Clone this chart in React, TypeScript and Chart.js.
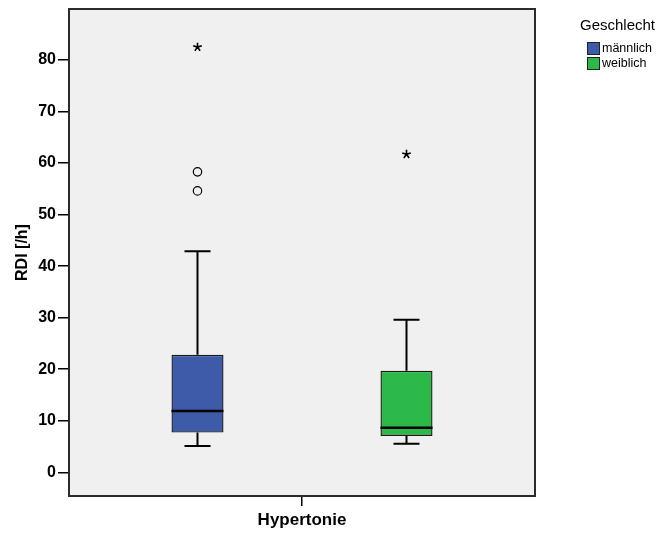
import React, { useEffect, useRef } from "react";
import { Chart, registerables } from "chart.js";

Chart.register(...registerables);

// ---- data ----
const categories = ["Hypertonie"];
const groups = ["männlich", "weiblich"];
const groupColors = ["#3E5BAA", "#2DB84A"];
const whiskerLow = [5.1, 5.55];
const q1 = [7.7, 7.05];
const median = [11.9, 8.65];
const q3 = [22.8, 19.7];
const whiskerHigh = [42.9, 29.6];
const outliersCircle = [[58.3, 54.6], []];
const outliersStar = [[82.5], [61.7]];
const yTicks = [0, 10, 20, 30, 40, 50, 60, 70, 80];
const legendTitle = "Geschlecht";
const yTitle = "RDI [/h]";

const boxPlugin = {
  id: "boxExtras",
  beforeDraw(chart: any) {
    const { ctx, chartArea: a } = chart;
    ctx.save();
    ctx.fillStyle = "#F0F0F0";
    ctx.fillRect(a.left, a.top, a.right - a.left, a.bottom - a.top);
    ctx.restore();
  },
  afterDatasetsDraw(chart: any) {
    const { ctx } = chart;
    const ys = chart.scales.y;
    ctx.save();
    groups.forEach((_, i) => {
      const meta = chart.getDatasetMeta(i);
      const bar: any = meta.data[0];
      if (!bar) return;
      const x = bar.x;
      const w = bar.width;
      const capW = w / 2;
      ctx.strokeStyle = "#000";
      ctx.lineCap = "butt";
      ctx.lineWidth = 2;
      ctx.beginPath();
      ctx.moveTo(x, ys.getPixelForValue(q3[i]));
      ctx.lineTo(x, ys.getPixelForValue(whiskerHigh[i]));
      ctx.moveTo(x, ys.getPixelForValue(q1[i]));
      ctx.lineTo(x, ys.getPixelForValue(whiskerLow[i]));
      ctx.stroke();
      ctx.beginPath();
      const yh = ys.getPixelForValue(whiskerHigh[i]);
      const yl = ys.getPixelForValue(whiskerLow[i]);
      ctx.moveTo(x - capW / 2, yh);
      ctx.lineTo(x + capW / 2, yh);
      ctx.moveTo(x - capW / 2, yl);
      ctx.lineTo(x + capW / 2, yl);
      ctx.stroke();
      ctx.lineWidth = 2.6;
      ctx.beginPath();
      const ym = ys.getPixelForValue(median[i]);
      ctx.moveTo(x - w / 2, ym);
      ctx.lineTo(x + w / 2, ym);
      ctx.stroke();
      ctx.lineWidth = 1.2;
      outliersCircle[i].forEach((v) => {
        const yy = ys.getPixelForValue(v);
        ctx.beginPath();
        ctx.arc(x, yy, 4.2, 0, Math.PI * 2);
        ctx.stroke();
      });
      ctx.lineWidth = 1.6;
      outliersStar[i].forEach((v) => {
        const yy = ys.getPixelForValue(v);
        ctx.beginPath();
        for (let k = 0; k < 5; k++) {
          const ang = -Math.PI / 2 + (k * 2 * Math.PI) / 5;
          ctx.moveTo(x, yy);
          ctx.lineTo(x + Math.cos(ang) * 4.5, yy + Math.sin(ang) * 4.5);
        }
        ctx.stroke();
      });
    });
    ctx.restore();
  },
  afterDraw(chart: any) {
    const { ctx, chartArea: a } = chart;
    ctx.save();
    ctx.strokeStyle = "#2b2b2b";
    ctx.lineWidth = 2;
    ctx.strokeRect(a.left, a.top, a.right - a.left, a.bottom - a.top);
    ctx.restore();
  },
};

export default function App() {
  const ref = useRef<HTMLCanvasElement | null>(null);
  useEffect(() => {
    if (!ref.current) return;
    const chart = new Chart(ref.current, {
      type: "bar",
      data: {
        labels: categories,
        datasets: groups.map((g, i) => ({
          label: g,
          data: [[q1[i], q3[i]]] as any,
          backgroundColor: groupColors[i],
          borderColor: "#1a1a1a",
          borderWidth: 1.4,
          borderSkipped: false,
          barPercentage: 0.249,
          categoryPercentage: 0.897,
        })),
      },
      options: {
        responsive: false,
        animation: false,
        layout: { padding: { left: 0, top: 9, right: 124, bottom: 0 } },
        plugins: {
          legend: { display: false },
          tooltip: { enabled: false },
        },
        scales: {
          x: {
            offset: true,
            grid: {
              offset: false,
              drawOnChartArea: false,
              drawTicks: true,
              tickLength: 10,
              color: "#000",
              lineWidth: 1.5,
            },
            border: { display: false },
            ticks: {
              color: "#000",
              padding: 4,
              font: { family: "Arial, 'Liberation Sans', sans-serif", size: 17, weight: "bold" },
            },
            afterFit: (s: any) => {
              s.height = 42;
              s.paddingLeft = 0;
              s.paddingRight = 0;
            },
          },
          y: {
            min: -4.6,
            max: 89.9,
            afterBuildTicks: (s: any) => {
              s.ticks = yTicks.map((v) => ({ value: v }));
            },
            grid: {
              drawOnChartArea: false,
              drawTicks: true,
              tickLength: 11,
              color: "#000",
              lineWidth: 1.5,
            },
            border: { display: false },
            ticks: {
              color: "#000",
              padding: 2,
              font: { family: "Arial, 'Liberation Sans', sans-serif", size: 16, weight: "bold" },
            },
            title: {
              display: true,
              text: yTitle,
              color: "#000",
              padding: { top: 13, bottom: 0 },
              font: { family: "Arial, 'Liberation Sans', sans-serif", size: 16, weight: "bold" },
            },
            afterFit: (s: any) => {
              s.width = 69;
              s.paddingTop = 0;
              s.paddingBottom = 0;
            },
          },
        },
      },
      plugins: [boxPlugin],
    });
    return () => chart.destroy();
  }, []);

  const font = "Arial, 'Liberation Sans', sans-serif";
  return (
    <div style={{ position: "fixed", left: 0, top: 0, width: 659, height: 538, background: "#fff" }}>
      <canvas ref={ref} width={659} height={538} style={{ display: "block" }} />
      <div
        style={{
          position: "absolute",
          left: 580,
          top: 16,
          fontFamily: font,
          fontSize: 15,
          lineHeight: "18px",
          color: "#000",
          whiteSpace: "nowrap",
        }}
      >
        {legendTitle}
      </div>
      {groups.map((g, i) => (
        <div
          key={g}
          style={{
            position: "absolute",
            left: 587,
            top: 42 + i * 14.5,
            display: "flex",
            alignItems: "center",
            fontFamily: font,
            fontSize: 12.5,
            lineHeight: "13px",
            color: "#000",
            whiteSpace: "nowrap",
          }}
        >
          <span
            style={{
              display: "inline-block",
              width: 11,
              height: 11,
              background: groupColors[i],
              border: "1px solid #222",
              marginRight: 2,
            }}
          />
          <span>{g}</span>
        </div>
      ))}
    </div>
  );
}
